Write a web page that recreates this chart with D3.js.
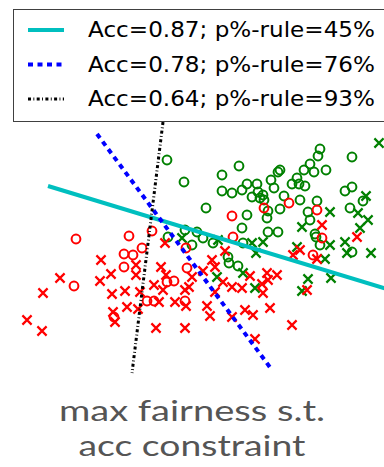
<!DOCTYPE html>
<html>
<head>
<meta charset="utf-8">
<script src="https://cdn.jsdelivr.net/npm/d3@7"></script>
<style>
  html, body { margin: 0; padding: 0; background: #fff; }
  svg { display: block; }
</style>
</head>
<body>
<svg id="chart" width="384" height="467"></svg>
<script>
// Group 1 (green): accepted, circles = protected attribute 0, crosses = 1
const greenCircles = [
  [-1.65, 4.5], [-0.8, 3.4], [0.3, 2.1], [1.1, 3.75], [1.95, 4.2], [1.1, 2.95],
  [1.6, 2.85], [2.1, 3.0], [2.35, 3.3], [2.6, 2.65], [2.85, 3.3], [2.9, 2.9],
  [3.15, 2.75], [3.0, 2.6], [3.2, 2.5], [2.35, 1.75], [2.1, 1.1], [3.35, 1.6],
  [3.4, 1.95], [4.0, 2.05], [4.2, 2.7], [3.7, 3.1], [3.55, 3.5], [3.9, 3.9],
  [4.0, 4.0], [4.6, 3.3], [4.85, 3.6], [4.95, 3.3], [5.25, 3.2], [5.2, 4.0],
  [5.5, 4.3], [5.7, 3.9], [6.3, 4.0], [5.9, 4.7], [6.0, 5.05], [7.6, 4.65],
  [7.25, 2.95], [7.6, 3.15], [8.15, 2.45], [7.5, 2.1], [5.0, 2.5], [5.4, 1.9],
  [5.5, 1.5], [5.85, 2.45], [5.75, 0.8], [3.4, 0.9], [3.9, 0.9], [-0.75, 1.0],
  [-0.15, 0.9], [-1.6, 0.65], [-0.4, 0.25], [0.15, 0.6], [1.4, -0.35],
  [1.45, -0.65], [1.9, -0.8], [2.15, 0.35], [6.0, 0.25], [5.8, 0.65],
  [7.6, -0.1], [0.65, 0.35]
];
const greenCrosses = [
  [-0.9, 0.6], [0.85, -1.35], [2.15, -1.15], [2.6, 0.35], [3.15, 0.4],
  [2.8, -0.15], [2.75, -1.9], [4.85, 0.15], [6.25, -0.45], [6.5, 0.25],
  [7.25, 0.4], [7.35, -0.15], [8.55, -0.15], [6.55, -1.4], [5.4, -1.45],
  [5.1, -2.05], [6.5, 1.9], [7.9, 1.85], [8.3, 2.7], [8.4, 1.5], [8.0, 1.1],
  [8.95, 5.35], [5.1, 1.15], [0.9, 0.5]
];
// Group 0 (red): rejected
const redCircles = [
  [-6.2, 0.55], [-3.55, 0.7], [-2.4, 0.95], [-3.8, -0.2], [-3.35, -0.25],
  [-2.9, 0.1], [-3.8, -0.85], [-6.3, -1.8], [-4.3, -3.35], [-2.65, -2.55],
  [-2.3, -2.55], [-1.65, -1.6], [-1.3, -1.55], [-0.75, -2.55], [-0.7, 0.1],
  [-0.65, -0.9], [1.6, 1.7], [1.65, 0.65], [3.2, 2.1], [4.45, 2.35],
  [5.85, 2.0], [6.1, 0.6], [5.65, -0.25]
];
const redCrosses = [
  [-7.0, -1.4], [-7.85, -2.15], [-8.65, -3.5], [-7.9, -4.05], [-4.95, -0.5],
  [-4.45, -1.2], [-5.0, -1.55], [-4.4, -2.2], [-3.75, -2.05], [-3.65, -2.85],
  [-4.35, -3.1], [-4.25, -3.6], [-3.2, -0.75], [-3.2, -1.25], [-3.0, -2.1],
  [-3.1, -2.95], [-1.95, -0.85], [-1.7, -1.25], [-2.3, -1.75], [-1.85, -2.0],
  [-2.05, -2.6], [-1.25, -2.6], [-0.75, -2.0], [-0.55, -1.85], [-0.7, -2.8],
  [-2.2, -3.9], [-0.75, -3.9], [-0.4, -1.35], [0.15, -1.05], [0.6, -0.5],
  [0.75, -0.85], [1.15, -1.6], [0.75, -2.1], [1.6, -1.85], [2.1, -1.9],
  [2.5, -1.3], [3.35, -1.15], [3.4, -1.5], [3.85, -1.25], [3.1, -1.7],
  [3.15, -2.15], [0.35, -2.8], [0.5, -3.3], [1.6, -3.35], [2.25, -3.0],
  [2.65, -3.25], [3.5, -2.9], [4.6, -3.75], [2.75, -4.45], [5.35, -2.0],
  [5.0, 0.0], [4.65, -0.25], [5.85, -0.45], [7.85, 0.65], [6.1, 1.25],
  [-1.75, 0.35], [1.25, -0.05]
];

// Decision boundaries (end points) and their legend labels
const boundaryLabels = [
  "Acc=0.87; p%-rule=45%",
  "Acc=0.78; p%-rule=76%",
  "Acc=0.64; p%-rule=93%"
];
const boundaryLines = [
  [[-7.6, 3.2], [10.0, -2.15]],
  [[-5.15, 5.8], [3.6, -6.0]],
  [[-1.85, 6.4], [-3.4, -6.15]]
];
const titleLines = ["max fairness s.t.", "acc constraint"];

const boundaryStyles = [
  { color: "#00bfbf", width: 4, dash: null },
  { color: "#0000ff", width: 4, dash: "5,4.5" },
  { color: "#000000", width: 3, dash: "3,2.4,0.9,2.4" }
];

const svg = d3.select("#chart");

const x = d3.scaleLinear().domain([-9, 9.2]).range([20, 384]);
const y = d3.scaleLinear().domain([-6.25, 6.25]).range([375, 125]);

const plot = svg.append("g");

// circles
function drawCircles(data, color) {
  plot.append("g").selectAll("circle").data(data).join("circle")
    .attr("cx", d => x(d[0])).attr("cy", d => y(d[1]))
    .attr("r", 4.4)
    .attr("fill", "none").attr("stroke", color).attr("stroke-width", 2);
}
// crosses
function drawCrosses(data, color) {
  const s = 4.6;
  plot.append("g").selectAll("path").data(data).join("path")
    .attr("d", d => {
      const cx = x(d[0]), cy = y(d[1]);
      return `M${cx - s},${cy - s}L${cx + s},${cy + s}M${cx - s},${cy + s}L${cx + s},${cy - s}`;
    })
    .attr("fill", "none").attr("stroke", color).attr("stroke-width", 2.2);
}

drawCircles(greenCircles, "#008000");
drawCrosses(greenCrosses, "#008000");
drawCircles(redCircles, "#ff0000");
drawCrosses(redCrosses, "#ff0000");

const line = d3.line().x(d => x(d[0])).y(d => y(d[1]));
boundaryLines.forEach((pts, i) => {
  const st = boundaryStyles[i];
  plot.append("path")
    .attr("d", line(pts))
    .attr("fill", "none")
    .attr("stroke", st.color)
    .attr("stroke-width", st.width)
    .attr("stroke-dasharray", st.dash);
});

// legend
const legend = svg.append("g");
legend.append("rect")
  .attr("x", 13.5).attr("y", 9.5).attr("width", 400).attr("height", 112)
  .attr("fill", "#fff").attr("stroke", "#404040").attr("stroke-width", 1);
boundaryLabels.forEach((label, i) => {
  const st = boundaryStyles[i];
  const yy = 30 + i * 34.5;
  legend.append("line")
    .attr("x1", 28).attr("x2", 64).attr("y1", yy).attr("y2", yy)
    .attr("stroke", st.color).attr("stroke-width", st.width)
    .attr("stroke-dasharray", st.dash);
  legend.append("text")
    .attr("x", 88).attr("y", yy + 7.3)
    .attr("font-family", "DejaVu Sans")
    .attr("font-size", 20.5)
    .attr("textLength", 287)
    .attr("lengthAdjust", "spacingAndGlyphs")
    .attr("fill", "#000")
    .text(label);
});

// caption
const captionWidths = [266, 227];
svg.append("g").selectAll("text").data(titleLines).join("text")
  .attr("x", 192).attr("y", (d, i) => 421 + i * 35)
  .attr("text-anchor", "middle")
  .attr("font-family", "Lato")
  .attr("font-size", 29)
  .attr("textLength", (d, i) => captionWidths[i])
  .attr("lengthAdjust", "spacingAndGlyphs")
  .attr("fill", "#555555")
  .text(d => d);
</script>
</body>
</html>
